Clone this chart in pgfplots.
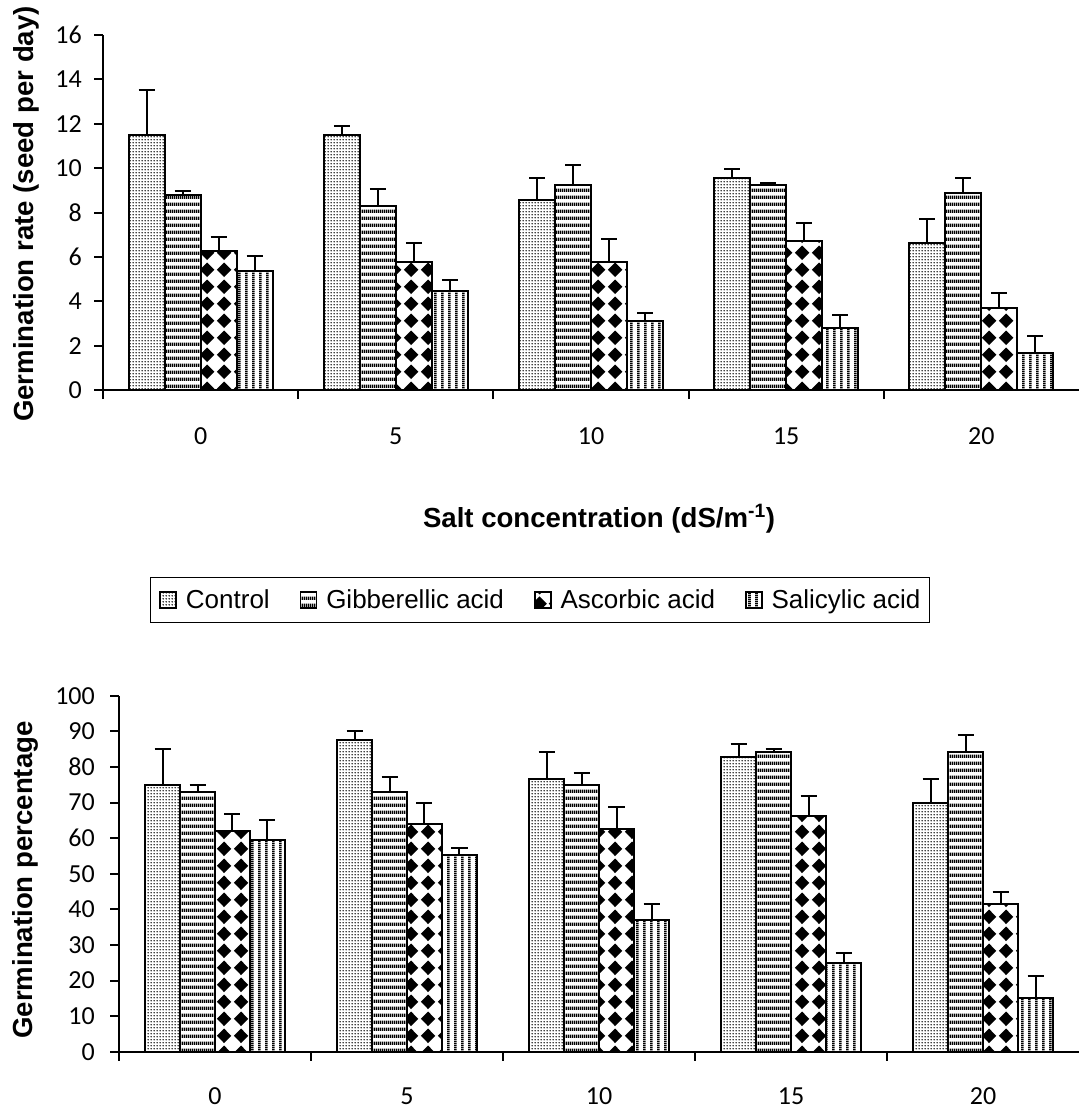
\documentclass[border=0pt]{standalone}
\usepackage{fontspec}
\setmainfont{Liberation Sans}
\newfontfamily\carlito{Carlito}
\usepackage{pgfplots}
\usepackage{pgfplotstable}
\pgfplotsset{compat=1.18}
\usetikzlibrary{patterns}

\pgfdeclarepatternformonly{cdots}{\pgfqpoint{0pt}{0pt}}{\pgfqpoint{3pt}{3pt}}{\pgfqpoint{3pt}{3pt}}{%
 \pgfpathcircle{\pgfqpoint{1.5pt}{1.5pt}}{1.0pt}\pgfusepath{fill}}
\pgfdeclarepatternformonly{hstr}{\pgfqpoint{0pt}{0pt}}{\pgfqpoint{2pt}{7.3pt}}{\pgfqpoint{2pt}{7.3pt}}{%
 \pgfpathrectangle{\pgfqpoint{0pt}{0pt}}{\pgfqpoint{2pt}{3.8pt}}\pgfusepath{fill}}
\pgfdeclarepatternformonly{vstr}{\pgfqpoint{0pt}{0pt}}{\pgfqpoint{6.8pt}{2pt}}{\pgfqpoint{6.8pt}{2pt}}{%
 \pgfpathrectangle{\pgfqpoint{0pt}{0pt}}{\pgfqpoint{2.8pt}{2pt}}\pgfusepath{fill}}
\pgfdeclarepatternformonly{diam}{\pgfqpoint{0pt}{0pt}}{\pgfqpoint{16.6pt}{16.6pt}}{\pgfqpoint{16.6pt}{16.6pt}}{%
 \pgfpathmoveto{\pgfqpoint{8.3pt}{0.9pt}}\pgfpathlineto{\pgfqpoint{15.7pt}{8.3pt}}\pgfpathlineto{\pgfqpoint{8.3pt}{15.7pt}}\pgfpathlineto{\pgfqpoint{0.9pt}{8.3pt}}\pgfpathclose\pgfusepath{fill}}

\pgfplotstableread{
x c ce g ge a ae s se
0 11.5 2.0 8.8 0.17 6.26 0.63 5.35 0.68
1 11.5 0.4 8.29 0.76 5.75 0.88 4.47 0.5
2 8.57 1.0 9.25 0.88 5.75 1.05 3.1 0.39
3 9.55 0.39 9.25 0.09 6.71 0.81 2.81 0.57
4 6.62 1.07 8.87 0.68 3.71 0.66 1.67 0.78
}\rate

\pgfplotstableread{
x c ce g ge a ae s se
0 74.8 10.2 73.0 1.8 62.1 4.8 59.5 5.5
1 87.6 2.5 73.0 4.1 63.9 6.0 55.3 1.9
2 76.6 7.5 74.8 3.6 62.6 6.2 37.1 4.3
3 82.7 3.6 84.1 0.9 66.2 5.5 24.8 3.0
4 69.9 6.7 84.1 4.8 41.4 3.5 15.1 6.2
}\perc

\pgfplotsset{
 leg/.style={legend image code/.code={\draw[##1, line width=1.5pt] (0pt,-8pt) rectangle (16pt,8pt);}},
 bars/.style={ybar, bar width=#1, bar shift=0pt, draw=black, line width=2pt, leg,
   error bars/y dir=plus, error bars/y explicit,
   error bars/error bar style={line width=2pt, black, solid},
   error bars/error mark options={rotate=90, line width=2pt, mark size=8pt, black, solid}},
 mybars/.style={
  scale only axis,
  xmin=-0.5, xmax=4.5,
  axis x line*=bottom, axis y line*=left,
  axis line style={line width=2pt},
  xtick={-0.5,0.5,1.5,2.5,3.5}, xticklabels={},
  extra x ticks={0,1,2,3,4}, extra x tick labels={0,5,10,15,20},
  extra x tick style={major tick length=0pt},
  tick align=outside,
  major tick length=9pt,
  tick style={black, line width=2pt},
  tick label style={font=\carlito\fontsize{26}{26}\selectfont},
  /pgf/number format/assume math mode=true,
  xticklabel style={anchor=base, inner sep=0pt, yshift=-54pt},
  yticklabel style={anchor=east, inner sep=0pt},
 }
}

\begin{document}
\begin{tikzpicture}
\useasboundingbox (0pt,0pt) rectangle (1079pt,-1110pt);

\begin{axis}[mybars,
  at={(103pt,-390pt)}, anchor=south west,
  width=976pt, height=355pt,
  ymin=0, ymax=16, ytick={0,2,...,16},
  yticklabel style={xshift=-12pt},
  legend style={at={(0.4477,-0.5915)}, anchor=center, legend columns=4,
    draw=black, line width=1pt, font=\fontsize{26}{26}\selectfont,
    inner xsep=9pt, inner ysep=12pt,
    nodes={inner sep=0pt},
    /tikz/every odd column/.append style={column sep=9pt},
    /tikz/every even column/.append style={column sep=30pt}},
  legend cell align=left,
]
\addplot[bars=36pt, pattern=cdots] table[x expr=\thisrow{x}-0.2766,y=c,y error=ce]{\rate};
\addplot[bars=36pt, pattern=hstr] table[x expr=\thisrow{x}-0.0922,y=g,y error=ge]{\rate};
\addplot[bars=36pt, pattern=diam] table[x expr=\thisrow{x}+0.0922,y=a,y error=ae]{\rate};
\addplot[bars=36pt, pattern=vstr] table[x expr=\thisrow{x}+0.2766,y=s,y error=se]{\rate};
\legend{Control, Gibberellic acid, Ascorbic acid, Salicylic acid}
\end{axis}

\begin{axis}[mybars,
  at={(119pt,-1051.7pt)}, anchor=south west,
  width=960pt, height=356pt,
  ymin=0, ymax=100, ytick={0,10,...,100},
  yticklabel style={xshift=-15pt},
  xticklabel style={yshift=1pt},
]
\addplot[bars=35pt, pattern=cdots] table[x expr=\thisrow{x}-0.2734,y=c,y error=ce]{\perc};
\addplot[bars=35pt, pattern=hstr] table[x expr=\thisrow{x}-0.0911,y=g,y error=ge]{\perc};
\addplot[bars=35pt, pattern=diam] table[x expr=\thisrow{x}+0.0911,y=a,y error=ae]{\perc};
\addplot[bars=35pt, pattern=vstr] table[x expr=\thisrow{x}+0.2734,y=s,y error=se]{\perc};
\end{axis}

\node[rotate=90, font=\fontsize{27.6}{30}\selectfont\bfseries] at (26pt,-214pt) {Germination rate (seed per day)};
\node[rotate=90, font=\fontsize{27.6}{30}\selectfont\bfseries] at (25pt,-880pt) {Germination percentage};
\node[anchor=base, font=\fontsize{27.6}{30}\selectfont\bfseries] at (599pt,-527pt) {Salt concentration (dS/m\textsuperscript{-1})};
\end{tikzpicture}
\end{document}
